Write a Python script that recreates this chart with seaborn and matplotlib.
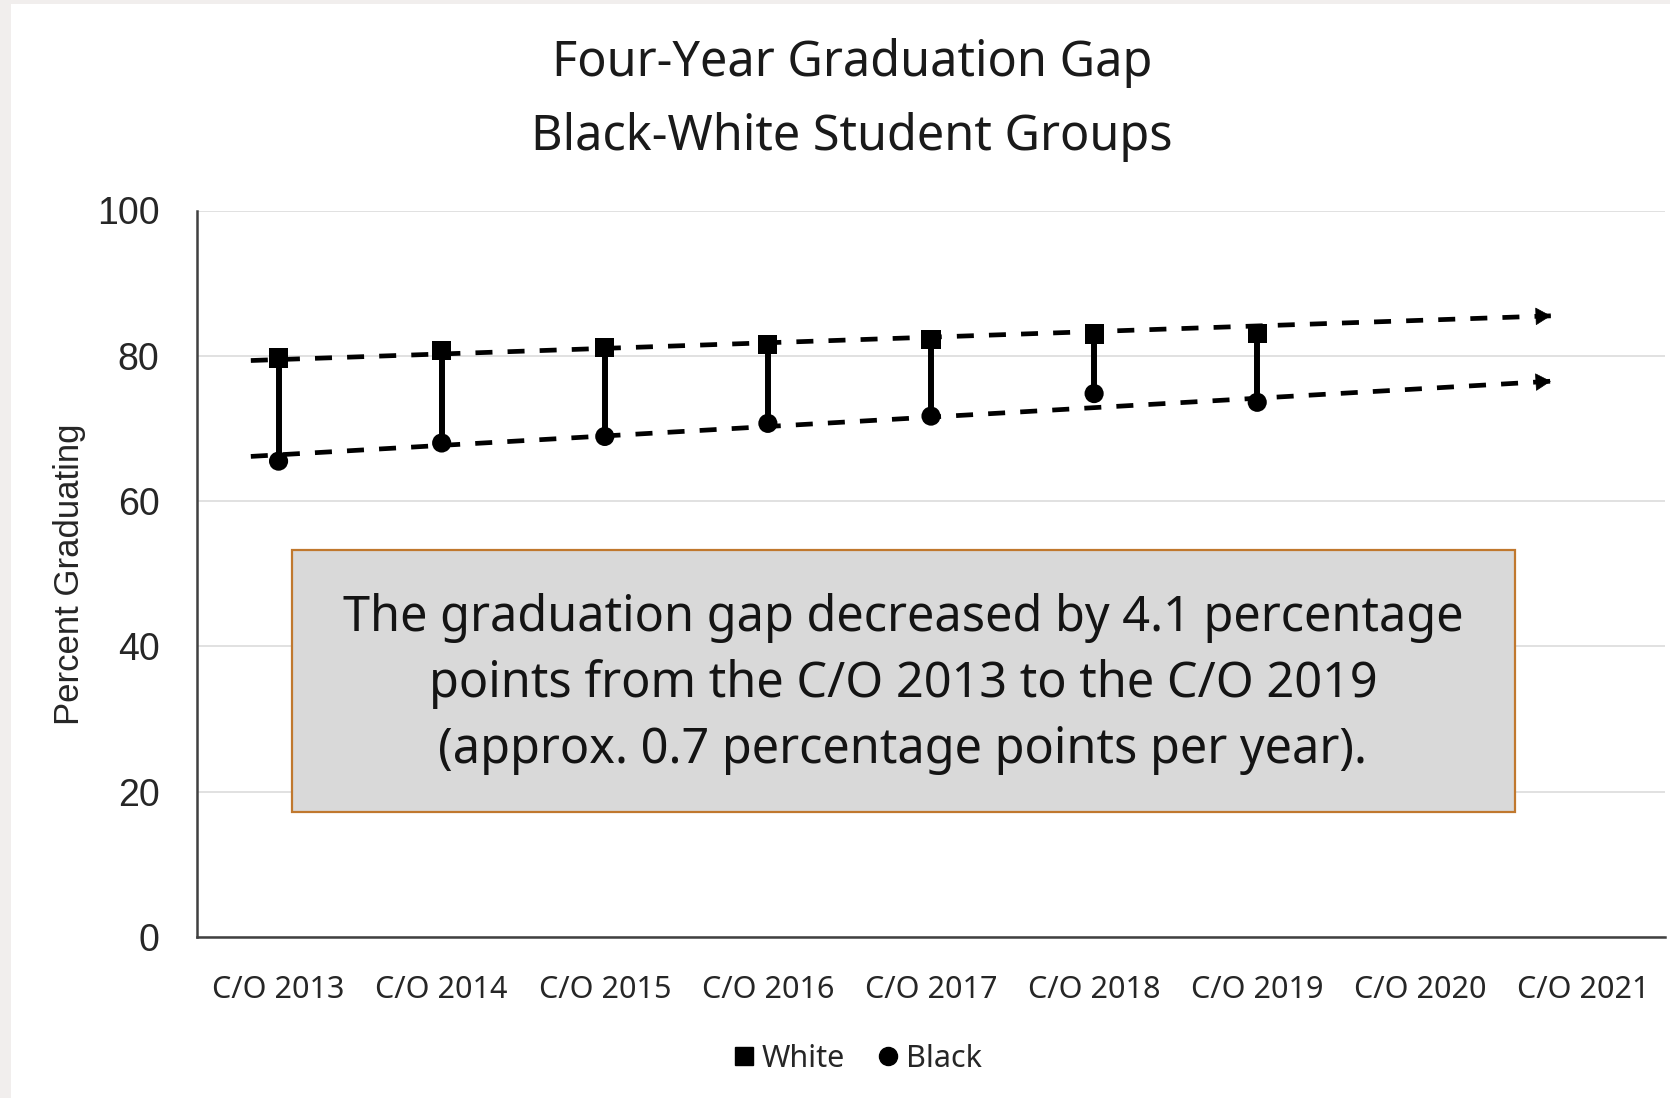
import numpy as np
import pandas as pd
import matplotlib
matplotlib.use("Agg")
import matplotlib.pyplot as plt
from matplotlib.patches import Rectangle
from matplotlib.lines import Line2D
import seaborn as sns

# ---------------- data ----------------
years = ["C/O 2013", "C/O 2014", "C/O 2015", "C/O 2016", "C/O 2017",
         "C/O 2018", "C/O 2019", "C/O 2020", "C/O 2021"]
white = [79.7, 80.7, 81.15, 81.6, 82.3, 83.0, 83.1]
black = [65.5, 68.0, 68.9, 70.7, 71.7, 74.8, 73.6]
# linear trendlines (start / end values, extended as forecast)
trend_span = [-0.17, 7.8]          # in category units
white_trend = [79.35, 85.5]
black_trend = [66.15, 76.5]
yticks = [0, 20, 40, 60, 80, 100]
title = "Four-Year Graduation Gap\nBlack-White Student Groups"
note = ("The graduation gap decreased by 4.1 percentage\n"
        "points from the C/O 2013 to the C/O 2019\n"
        "(approx. 0.7 percentage points per year).")

# ---------------- build frame ----------------
n = len(white)
df = pd.DataFrame({
    "pos": list(range(n)) * 2,
    "value": white + black,
    "group": ["White"] * n + ["Black"] * n,
})

sns.set_theme(style="white")
plt.rcParams["font.family"] = ["Noto Sans", "DejaVu Sans"]

W, H = 1670, 1098
fig = plt.figure(figsize=(W / 100, H / 100), dpi=100, facecolor="white")
ax = fig.add_axes([197 / W, 1 - 937 / H, (1665 - 197) / W, (937 - 210.5) / H])

# gap connectors (high-low lines)
ax.vlines(range(n), black, white, color="black", lw=4.3, zorder=3)

# trendlines with arrow heads
dash = (0, (3.6, 3.2))
for tr in (white_trend, black_trend):
    ax.plot(trend_span, tr, color="black", lw=3.4, ls=dash, zorder=2,
            dash_capstyle="butt")
    x_end = trend_span[-1]
    x_back = x_end - 0.08
    y_back = np.interp(x_back, trend_span, tr)
    ax.annotate("", xy=(x_end, tr[-1]), xytext=(x_back, y_back),
                arrowprops=dict(arrowstyle="-|>,head_length=0.6,head_width=0.35",
                                mutation_scale=17, color="black", lw=0.5,
                                shrinkA=0, shrinkB=0),
                zorder=2)

# markers
sns.scatterplot(data=df, x="pos", y="value", style="group",
                style_order=["White", "Black"],
                markers={"White": "s", "Black": "o"},
                color="black", s=190, linewidth=0, zorder=4,
                legend=False, ax=ax)

# axes styling
ax.set_xlim(-0.5, len(years) - 0.5)
ax.set_ylim(0, 100)
ax.set_xticks(range(len(years)))
ax.set_xticklabels(years, fontsize=22, color="#262626")
ax.set_yticks(yticks)
ax.set_yticklabels([str(v) for v in yticks], fontsize=27,
                   family=["Liberation Sans", "DejaVu Sans"], color="#262626")
ax.tick_params(axis="x", length=0, pad=27)
ax.tick_params(axis="y", length=0, pad=27)
ax.set_xlabel("")
ax.set_ylabel("")
ax.yaxis.grid(True, color="#d9d9d9", lw=1.1)
ax.xaxis.grid(False)
ax.set_axisbelow(True)
for s in ("top", "right"):
    ax.spines[s].set_visible(False)
for s in ("left", "bottom"):
    ax.spines[s].set_color("#404040")
    ax.spines[s].set_linewidth(1.8)
ax.set_facecolor("white")

# y label
fig.text(70 / W, 1 - 574 / H, "Percent Graduating", rotation=90,
         ha="center", va="center", fontsize=25,
         family=["Liberation Sans", "DejaVu Sans"], color="#262626")

# title
fig.text(852 / W, 1 - 100 / H, title, ha="center", va="center",
         fontsize=35, linespacing=1.62, color="#1a1a1a")

# annotation box
fig.patches.append(Rectangle((292 / W, 1 - 812 / H), (1515 - 292) / W,
                             (812 - 550) / H, transform=fig.transFigure,
                             facecolor="#d9d9d9", edgecolor="#c0782e",
                             lw=1.6, zorder=5))
fig.text(903 / W, 1 - 684 / H, note, ha="center", va="center",
         fontsize=35, linespacing=1.43, color="#141414", zorder=6)

# background frame strips
fig.patches.append(Rectangle((0, 0), 11 / W, 1, transform=fig.transFigure,
                             facecolor="#f1eeed", edgecolor="none", zorder=0))
fig.patches.append(Rectangle((0, 1 - 4 / H), 1, 4 / H,
                             transform=fig.transFigure,
                             facecolor="#f1eeed", edgecolor="none", zorder=0))

# legend
handles = [Line2D([], [], marker="s", color="black", ls="none", ms=13),
           Line2D([], [], marker="o", color="black", ls="none", ms=13)]
fig.legend(handles, ["White", "Black"], loc="center",
           bbox_to_anchor=(857 / W, 1 - 1059 / H), ncol=2, frameon=False,
           fontsize=22, handletextpad=0.2, columnspacing=1.0,
           handlelength=0.8, labelcolor="#262626")

fig.savefig("out.png", dpi=100, facecolor="white")
